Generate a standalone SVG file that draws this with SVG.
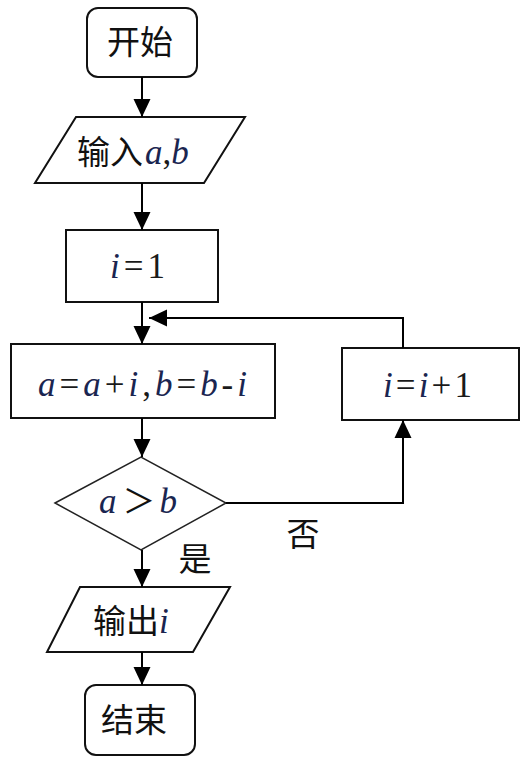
<svg xmlns="http://www.w3.org/2000/svg" width="528" height="762" viewBox="0 0 528 762">
<defs>
<marker id="ah" markerUnits="userSpaceOnUse" markerWidth="19" markerHeight="19" refX="18" refY="9.5" orient="auto">
<path d="M0,1 L18,9.5 L0,18 z" fill="#000"/>
</marker>
<style>
.box{fill:#fff;stroke:#111;stroke-width:2}
.dia{fill:#fff;stroke:#222;stroke-width:1.5}
.cn{font-family:"Noto Sans CJK SC","Noto Sans",sans-serif;font-size:33px;fill:#111}
.m{font-family:"Liberation Serif",serif;font-style:italic;font-size:35px;fill:#1a2550}
.n{font-family:"Liberation Serif",serif;font-size:35px;fill:#1a1a1a}
.line{fill:none;stroke:#000;stroke-width:2}
</style>
</defs>
<rect width="528" height="762" fill="#fff"/>
<g id="start">
<rect class="box" x="87" y="8" width="110" height="69" rx="11"/>
<text class="cn" x="140" y="54" text-anchor="middle">开始</text>
</g>
<g id="input">
<polygon class="box" points="76,117 245,117 204,183 35,183"/>
<text x="77" y="164"><tspan class="cn">输入</tspan><tspan class="m" dx="2">a</tspan><tspan class="n">,</tspan><tspan class="m">b</tspan></text>
</g>
<g id="init">
<rect class="box" x="66" y="230" width="152" height="72"/>
<text x="110" y="278" textLength="55" lengthAdjust="spacing"><tspan class="m">i</tspan><tspan class="n">=1</tspan></text>
</g>
<g id="update">
<rect class="box" x="11" y="344" width="264" height="74"/>
<text x="38" y="396" textLength="209" lengthAdjust="spacing"><tspan class="m">a</tspan><tspan class="n">=</tspan><tspan class="m">a</tspan><tspan class="n">+</tspan><tspan class="m">i</tspan><tspan class="n">,</tspan><tspan class="m">b</tspan><tspan class="n">=</tspan><tspan class="m">b</tspan><tspan class="n">-</tspan><tspan class="m">i</tspan></text>
</g>
<g id="incr">
<rect class="box" x="342" y="348" width="177" height="72"/>
<text x="383" y="397" textLength="89" lengthAdjust="spacing"><tspan class="m">i</tspan><tspan class="n">=</tspan><tspan class="m">i</tspan><tspan class="n">+1</tspan></text>
</g>
<g id="cond">
<polygon class="dia" points="55,503 141,457 226,503 141,550"/>
<text x="99" y="513"><tspan class="m">a</tspan><tspan class="cn" font-size="26" dx="6">＞</tspan><tspan class="m" dx="4">b</tspan></text>
</g>
<g id="output">
<polygon class="box" points="80,587 230,587 193,652 47,652"/>
<text x="93" y="633"><tspan class="cn">输出</tspan><tspan class="m">i</tspan></text>
</g>
<g id="end">
<rect class="box" x="85" y="685" width="110" height="70" rx="11"/>
<text class="cn" x="134" y="732" text-anchor="middle">结束</text>
</g>
<g id="connectors">
<path class="line" d="M142,77 V117" marker-end="url(#ah)"/>
<path class="line" d="M142,183 V230" marker-end="url(#ah)"/>
<path class="line" d="M142,302 V344" marker-end="url(#ah)"/>
<path class="line" d="M403,348 V318 H149" marker-end="url(#ah)"/>
<path class="line" d="M142,418 V457" marker-end="url(#ah)"/>
<path class="line" d="M226,503 H403 V420" marker-end="url(#ah)"/>
<path class="line" d="M142,550 V587" marker-end="url(#ah)"/>
<path class="line" d="M142,652 V685" marker-end="url(#ah)"/>
</g>
<g id="labels">
<text class="cn" x="303" y="546" text-anchor="middle">否</text>
<text class="cn" x="195" y="571" text-anchor="middle">是</text>
</g>
</svg>
